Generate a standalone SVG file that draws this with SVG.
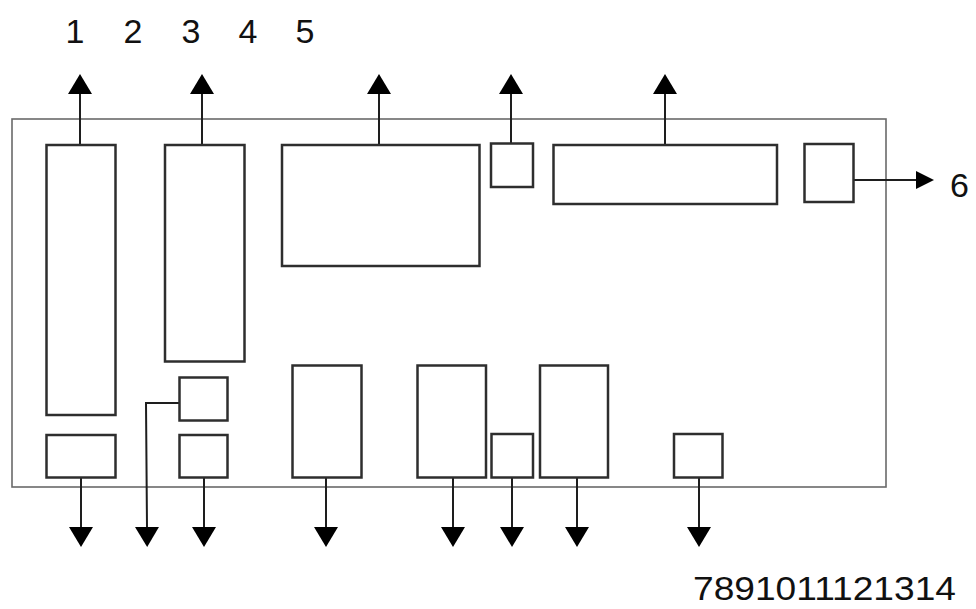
<svg xmlns="http://www.w3.org/2000/svg" width="976" height="609" viewBox="0 0 976 609">
<style>
.bx{fill:#fff;stroke:#2e2e2e;stroke-width:2.5}
.fr{fill:none;stroke:#6a6a6a;stroke-width:1.6}
.cn{fill:none;stroke:#1e1e1e;stroke-width:2}
.lb{font-family:"Liberation Sans",Arial,sans-serif;font-size:34px;fill:#111}
</style>
<defs>
<marker id="ah" viewBox="0 0 20 24" refX="0" refY="12" markerWidth="20" markerHeight="24" markerUnits="userSpaceOnUse" orient="auto">
<path d="M0,0 L20,12 L0,24 Z" fill="#000"/>
</marker>
<marker id="ah6" viewBox="0 0 18 18" refX="0" refY="9" markerWidth="18" markerHeight="18" markerUnits="userSpaceOnUse" orient="auto">
<path d="M0,0 L18,9 L0,18 Z" fill="#000"/>
</marker>
</defs>
<rect width="976" height="609" fill="#fff"/>
<g id="frame"><rect class="fr" x="12" y="119" width="874" height="368"/></g>
<g id="connectors">
<line class="cn" x1="80" y1="145" x2="80" y2="94" marker-end="url(#ah)"/>
<line class="cn" x1="202" y1="145" x2="202" y2="94" marker-end="url(#ah)"/>
<line class="cn" x1="379" y1="145" x2="379" y2="94" marker-end="url(#ah)"/>
<line class="cn" x1="511" y1="143" x2="511" y2="94" marker-end="url(#ah)"/>
<line class="cn" x1="665" y1="145" x2="665" y2="94" marker-end="url(#ah)"/>
<line class="cn" x1="853" y1="180" x2="916" y2="180" marker-end="url(#ah6)"/>
<line class="cn" x1="81" y1="478" x2="81" y2="527" marker-end="url(#ah)"/>
<polyline class="cn" points="179,403 146,403 147,527" marker-end="url(#ah)"/>
<line class="cn" x1="204" y1="478" x2="204" y2="527" marker-end="url(#ah)"/>
<line class="cn" x1="326" y1="478" x2="326" y2="527" marker-end="url(#ah)"/>
<line class="cn" x1="453" y1="478" x2="453" y2="527" marker-end="url(#ah)"/>
<line class="cn" x1="512" y1="478" x2="512" y2="527" marker-end="url(#ah)"/>
<line class="cn" x1="577" y1="478" x2="577" y2="527" marker-end="url(#ah)"/>
<line class="cn" x1="699" y1="478" x2="699" y2="527" marker-end="url(#ah)"/>
</g>
<g id="boxA"><rect class="bx" x="46.5" y="145" width="69" height="270"/></g>
<g id="boxB"><rect class="bx" x="165" y="145" width="79.5" height="216.5"/></g>
<g id="boxC"><rect class="bx" x="282" y="145" width="197.5" height="121"/></g>
<g id="boxD"><rect class="bx" x="491" y="143.5" width="42" height="43.5"/></g>
<g id="boxE"><rect class="bx" x="553.5" y="145" width="223.5" height="59"/></g>
<g id="boxF"><rect class="bx" x="804.5" y="144" width="49" height="58"/></g>
<g id="boxG"><rect class="bx" x="46.5" y="435" width="69" height="42.5"/></g>
<g id="boxH"><rect class="bx" x="179.5" y="377.5" width="48" height="43"/></g>
<g id="boxI"><rect class="bx" x="179.5" y="435" width="48" height="42.5"/></g>
<g id="boxJ"><rect class="bx" x="292.5" y="365.5" width="69" height="112"/></g>
<g id="boxK"><rect class="bx" x="417.5" y="365.5" width="68.5" height="112"/></g>
<g id="boxL"><rect class="bx" x="491.5" y="434" width="41.5" height="43.5"/></g>
<g id="boxM"><rect class="bx" x="540" y="365.5" width="68" height="112"/></g>
<g id="boxN"><rect class="bx" x="674" y="434" width="48.5" height="43.5"/></g>
<g id="labels">
<text class="lb" x="75" y="43" text-anchor="middle">1</text>
<text class="lb" x="133" y="43" text-anchor="middle">2</text>
<text class="lb" x="191" y="43" text-anchor="middle">3</text>
<text class="lb" x="248" y="43" text-anchor="middle">4</text>
<text class="lb" x="305" y="43" text-anchor="middle">5</text>
<text class="lb" x="950" y="197">6</text>
<text class="lb" x="693" y="600" textLength="263" lengthAdjust="spacingAndGlyphs">7891011121314</text>
</g>
</svg>
